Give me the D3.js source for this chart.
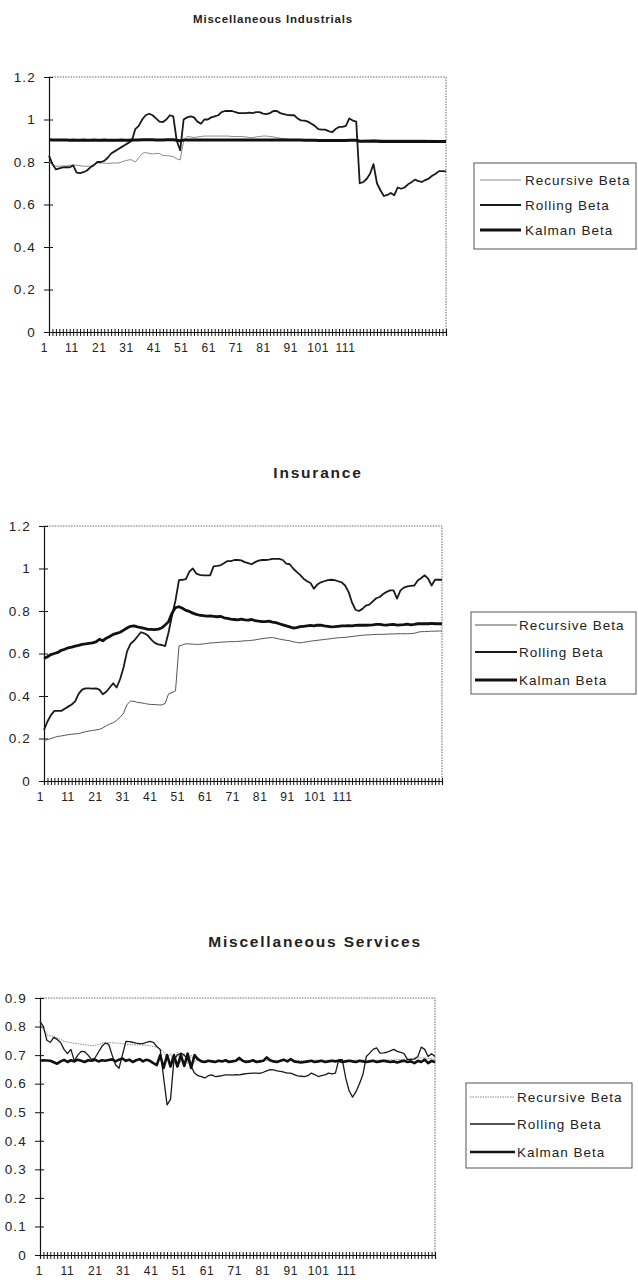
<!DOCTYPE html>
<html lang="en">
<head>
<meta charset="UTF-8"/>
<title>Beta estimates</title>
<script src="https://d3js.org/d3.v7.js"></script>
<style>
  body { margin: 0; background: #fff; }
  text { font-family: "Liberation Sans", Arial, sans-serif; fill: #222; }
</style>
</head>
<body>
<div id="chart"></div>
<script>
// ---- data ----
const seriesNames = ["Recursive Beta", "Rolling Beta", "Kalman Beta"];
const xLabelValues = [1, 11, 21, 31, 41, 51, 61, 71, 81, 91, 101, 111];
const yTicksWide = [0, 0.2, 0.4, 0.6, 0.8, 1, 1.2];
const yTicksNarrow = [0, 0.1, 0.2, 0.3, 0.4, 0.5, 0.6, 0.7, 0.8, 0.9];

// Miscellaneous Industrials
const indRecursive = [
  0.80, 0.79, 0.78, 0.78, 0.782, 0.78, 0.785, 0.785, 0.785, 0.783,
  0.78, 0.78, 0.78, 0.79, 0.795, 0.795, 0.795, 0.793, 0.795, 0.795,
  0.795, 0.80, 0.805, 0.81, 0.81, 0.80, 0.82, 0.84, 0.845, 0.84,
  0.838, 0.84, 0.84, 0.83, 0.83, 0.828, 0.825, 0.815, 0.81, 0.90,
  0.92, 0.918, 0.915, 0.918, 0.92, 0.922, 0.922, 0.922, 0.922, 0.922,
  0.922, 0.922, 0.922, 0.92, 0.92, 0.92, 0.92, 0.918, 0.915, 0.915,
  0.918, 0.92, 0.922, 0.922, 0.92, 0.918, 0.915, 0.912, 0.91, 0.908,
  0.905, 0.905, 0.903, 0.903, 0.902, 0.902, 0.902, 0.902, 0.902, 0.902,
  0.902, 0.902, 0.902, 0.902, 0.902, 0.902, 0.902, 0.902, 0.902, 0.902,
  0.90, 0.902, 0.903, 0.903, 0.904, 0.904, 0.904, 0.903, 0.903, 0.903,
  0.903, 0.903, 0.903, 0.903, 0.903, 0.903, 0.903, 0.903, 0.903, 0.903,
  0.902, 0.902, 0.901, 0.901, 0.90, 0.90];
const indRolling = [
  0.83, 0.79, 0.765, 0.77, 0.775, 0.776, 0.775, 0.784, 0.75, 0.748,
  0.752, 0.76, 0.775, 0.785, 0.80, 0.80, 0.805, 0.82, 0.84, 0.85,
  0.86, 0.87, 0.88, 0.89, 0.90, 0.955, 0.97, 1.00, 1.02, 1.027,
  1.02, 1.005, 0.99, 0.988, 1.0, 1.02, 1.015, 0.90, 0.855, 1.00,
  1.01, 1.015, 1.01, 0.99, 0.98, 1.0, 1.0, 1.01, 1.015, 1.02,
  1.035, 1.04, 1.04, 1.04, 1.035, 1.03, 1.03, 1.03, 1.032, 1.03,
  1.035, 1.035, 1.028, 1.025, 1.03, 1.04, 1.04, 1.03, 1.025, 1.022,
  1.02, 1.02, 1.005, 0.996, 0.995, 0.99, 0.98, 0.97, 0.955, 0.952,
  0.952, 0.945, 0.94, 0.955, 0.965, 0.965, 0.97, 1.005, 0.995, 0.99,
  0.70, 0.705, 0.72, 0.745, 0.79, 0.70, 0.667, 0.64, 0.645, 0.654,
  0.643, 0.68, 0.674, 0.68, 0.695, 0.705, 0.717, 0.71, 0.706, 0.715,
  0.722, 0.735, 0.745, 0.757, 0.757, 0.756];
const indKalman = [
  0.905, 0.904, 0.903, 0.904, 0.903, 0.903, 0.902, 0.903, 0.902, 0.902,
  0.903, 0.902, 0.902, 0.903, 0.902, 0.902, 0.903, 0.902, 0.902, 0.902,
  0.902, 0.903, 0.902, 0.902, 0.903, 0.904, 0.904, 0.905, 0.905, 0.905,
  0.905, 0.904, 0.904, 0.904, 0.905, 0.905, 0.905, 0.902, 0.90, 0.903,
  0.904, 0.904, 0.904, 0.903, 0.903, 0.903, 0.903, 0.903, 0.903, 0.904,
  0.904, 0.904, 0.904, 0.904, 0.904, 0.904, 0.904, 0.904, 0.904, 0.904,
  0.904, 0.904, 0.904, 0.904, 0.904, 0.904, 0.904, 0.904, 0.904, 0.903,
  0.903, 0.903, 0.903, 0.903, 0.902, 0.902, 0.902, 0.902, 0.901, 0.901,
  0.901, 0.901, 0.901, 0.901, 0.901, 0.901, 0.901, 0.902, 0.902, 0.902,
  0.898, 0.898, 0.898, 0.898, 0.899, 0.898, 0.897, 0.897, 0.897, 0.897,
  0.897, 0.897, 0.897, 0.897, 0.897, 0.897, 0.897, 0.897, 0.897, 0.897,
  0.897, 0.897, 0.897, 0.897, 0.897, 0.897];

// Insurance
const insRecursive = [
  0.19, 0.195, 0.2, 0.205, 0.21, 0.212, 0.215, 0.218, 0.22, 0.222,
  0.223, 0.228, 0.232, 0.235, 0.238, 0.24, 0.243, 0.25, 0.26, 0.268,
  0.274, 0.285, 0.30, 0.32, 0.36, 0.376, 0.375, 0.37, 0.368, 0.365,
  0.362, 0.36, 0.36, 0.358, 0.358, 0.365, 0.41, 0.416, 0.424, 0.635,
  0.64, 0.646, 0.645, 0.644, 0.643, 0.643, 0.645, 0.647, 0.65, 0.65,
  0.652, 0.653, 0.654, 0.655, 0.656, 0.656, 0.657, 0.658, 0.66, 0.66,
  0.662, 0.664, 0.667, 0.67, 0.672, 0.674, 0.675, 0.672, 0.668, 0.665,
  0.662, 0.66, 0.655, 0.652, 0.65, 0.653, 0.655, 0.658, 0.66, 0.662,
  0.664, 0.666, 0.668, 0.67, 0.672, 0.674, 0.675, 0.676, 0.678, 0.68,
  0.682, 0.684, 0.686, 0.687, 0.688, 0.689, 0.69, 0.69, 0.69, 0.691,
  0.692, 0.692, 0.693, 0.693, 0.693, 0.693, 0.694, 0.695, 0.70, 0.703,
  0.703, 0.704, 0.705, 0.705, 0.706, 0.706];
const insRolling = [
  0.24, 0.28, 0.31, 0.33, 0.33, 0.33, 0.34, 0.35, 0.36, 0.375,
  0.41, 0.43, 0.436, 0.436, 0.435, 0.436, 0.43, 0.408, 0.42, 0.44,
  0.46, 0.44, 0.48, 0.535, 0.61, 0.645, 0.66, 0.68, 0.70, 0.695,
  0.685, 0.665, 0.65, 0.643, 0.64, 0.635, 0.70, 0.78, 0.85, 0.945,
  0.947, 0.95, 0.985, 1.0, 0.976, 0.97, 0.968, 0.968, 0.968, 1.01,
  1.012, 1.015, 1.025, 1.035, 1.035, 1.04, 1.04, 1.038, 1.03, 1.025,
  1.02, 1.03, 1.037, 1.04, 1.04, 1.042, 1.045, 1.045, 1.045, 1.04,
  1.023, 1.02, 1.0, 0.984, 0.97, 0.952, 0.94, 0.932, 0.905, 0.925,
  0.935, 0.94, 0.945, 0.947, 0.945, 0.94, 0.935, 0.92, 0.89, 0.84,
  0.806, 0.80, 0.81, 0.825, 0.83, 0.845, 0.86, 0.866, 0.88, 0.89,
  0.897, 0.897, 0.858, 0.897, 0.91, 0.916, 0.918, 0.92, 0.944, 0.955,
  0.968, 0.952, 0.92, 0.947, 0.947, 0.947];
const insKalman = [
  0.577, 0.585, 0.595, 0.6, 0.605, 0.615, 0.62, 0.627, 0.63, 0.635,
  0.638, 0.643, 0.645, 0.648, 0.65, 0.655, 0.667, 0.66, 0.672, 0.68,
  0.69, 0.695, 0.70, 0.71, 0.72, 0.728, 0.73, 0.725, 0.722, 0.718,
  0.714, 0.714, 0.712, 0.715, 0.72, 0.734, 0.75, 0.79, 0.816, 0.82,
  0.813, 0.803, 0.798, 0.79, 0.784, 0.78, 0.778, 0.776, 0.777, 0.775,
  0.773, 0.775, 0.768, 0.765, 0.762, 0.76, 0.758, 0.762, 0.758, 0.757,
  0.76, 0.755, 0.752, 0.75, 0.75, 0.752, 0.748, 0.745, 0.74, 0.735,
  0.73, 0.725, 0.72, 0.722, 0.726, 0.728, 0.73, 0.732, 0.73, 0.734,
  0.733, 0.73, 0.728, 0.725, 0.726, 0.728, 0.73, 0.73, 0.731, 0.73,
  0.732, 0.733, 0.734, 0.733, 0.734, 0.735, 0.737, 0.737, 0.735, 0.734,
  0.736, 0.737, 0.734, 0.735, 0.736, 0.738, 0.735, 0.737, 0.74, 0.74,
  0.741, 0.74, 0.742, 0.74, 0.741, 0.74];

// Miscellaneous Services
const svcRecursive = [
  0.818, 0.79, 0.771, 0.768, 0.765, 0.76, 0.755, 0.748, 0.746, 0.744,
  0.742, 0.74, 0.738, 0.736, 0.735, 0.733, 0.734, 0.737, 0.742, 0.744,
  0.744, 0.743, 0.742, 0.742, 0.74, 0.738, 0.737, 0.736, 0.736, 0.736,
  0.735, 0.735, 0.733, 0.73, 0.728, 0.72, 0.71, 0.69, 0.705, 0.67,
  0.71, 0.675, 0.705, 0.67, 0.70, 0.675, 0.69, 0.682, 0.68, 0.68,
  0.681, 0.68, 0.681, 0.68, 0.681, 0.68, 0.681, 0.68, 0.681, 0.68,
  0.681, 0.68, 0.681, 0.68, 0.681, 0.68, 0.681, 0.68, 0.681, 0.68,
  0.681, 0.681, 0.681, 0.681, 0.681, 0.681, 0.681, 0.681, 0.681, 0.681,
  0.682, 0.682, 0.682, 0.682, 0.682, 0.682, 0.682, 0.682, 0.682, 0.682,
  0.682, 0.682, 0.682, 0.682, 0.682, 0.682, 0.682, 0.682, 0.682, 0.682,
  0.683, 0.683, 0.683, 0.683, 0.684, 0.684, 0.685, 0.686, 0.688, 0.69,
  0.69, 0.69, 0.69, 0.688, 0.688, 0.686];
const svcRolling = [
  0.818, 0.80, 0.752, 0.745, 0.762, 0.755, 0.744, 0.72, 0.705, 0.72,
  0.68, 0.70, 0.713, 0.712, 0.70, 0.684, 0.69, 0.71, 0.73, 0.742,
  0.738, 0.70, 0.666, 0.654, 0.70, 0.748, 0.747, 0.745, 0.742, 0.74,
  0.74, 0.745, 0.748, 0.745, 0.73, 0.72, 0.62, 0.526, 0.545, 0.684,
  0.70, 0.707, 0.70, 0.684, 0.66, 0.637, 0.628, 0.625, 0.62, 0.628,
  0.631, 0.625, 0.626, 0.628, 0.631, 0.631, 0.63, 0.632, 0.631, 0.633,
  0.635, 0.636, 0.637, 0.637, 0.636, 0.64, 0.645, 0.649, 0.648, 0.645,
  0.643, 0.64, 0.637, 0.637, 0.632, 0.627, 0.626, 0.625, 0.628, 0.637,
  0.632, 0.625, 0.628, 0.631, 0.637, 0.634, 0.637, 0.684, 0.684, 0.62,
  0.575, 0.553, 0.572, 0.60, 0.631, 0.695, 0.707, 0.72, 0.725, 0.707,
  0.708, 0.71, 0.715, 0.72, 0.713, 0.71, 0.705, 0.684, 0.685, 0.686,
  0.695, 0.728, 0.72, 0.695, 0.705, 0.695];
const svcKalman = [
  0.68, 0.682, 0.681, 0.68, 0.675, 0.67, 0.678, 0.683, 0.676, 0.682,
  0.678, 0.684, 0.68, 0.676, 0.682, 0.68, 0.684, 0.678, 0.682, 0.68,
  0.683, 0.685, 0.678, 0.684, 0.688, 0.68, 0.684, 0.676, 0.682, 0.686,
  0.678, 0.684, 0.68, 0.672, 0.665, 0.70, 0.655, 0.70, 0.66, 0.70,
  0.66, 0.70, 0.662, 0.705, 0.655, 0.70, 0.685, 0.678, 0.676, 0.68,
  0.678, 0.676, 0.68, 0.678, 0.682, 0.676, 0.678, 0.68, 0.69, 0.68,
  0.676, 0.678, 0.682, 0.676, 0.678, 0.68, 0.692, 0.682, 0.678, 0.676,
  0.68, 0.684, 0.678, 0.686, 0.678, 0.676, 0.674, 0.676, 0.678, 0.68,
  0.676, 0.678, 0.68, 0.676, 0.678, 0.68, 0.678, 0.68, 0.676, 0.678,
  0.68, 0.678, 0.676, 0.68, 0.678, 0.676, 0.678, 0.68, 0.676, 0.678,
  0.68, 0.678, 0.676, 0.678, 0.674, 0.678, 0.68, 0.676, 0.678, 0.672,
  0.68, 0.676, 0.684, 0.672, 0.68, 0.675];

const categories = d3.range(1, indRolling.length + 1);

// ---- layout of the three panels ----
const panels = [
  { title: "Miscellaneous Industrials", titleX: 273, titleY: 23, titleSize: 11.5, titleSpacing: 0.8,
    left: 49, right: 446, top: 77, bottom: 332, yMax: 1.2, yTicks: yTicksWide,
    labelRange: [44, 345],
    data: [indRecursive, indRolling, indKalman],
    styles: [
      { stroke: "#8a8a8a", width: 1, dash: null },
      { stroke: "#1a1a1a", width: 1.8, dash: null },
      { stroke: "#111", width: 3, dash: null }],
    legend: { x: 474, y: 163, w: 162, h: 86, rows: [180, 205, 230], s0: 480, s1: 521, tx: 525 } },
  { title: "Insurance", titleX: 318, titleY: 478, titleSize: 15.5, titleSpacing: 1.8,
    left: 44, right: 442, top: 526, bottom: 781, yMax: 1.2, yTicks: yTicksWide,
    labelRange: [40, 342],
    data: [insRecursive, insRolling, insKalman],
    styles: [
      { stroke: "#555", width: 1, dash: null },
      { stroke: "#1a1a1a", width: 1.8, dash: null },
      { stroke: "#111", width: 2.8, dash: null }],
    legend: { x: 471, y: 612, w: 165, h: 82, rows: [625, 652, 680], s0: 475, s1: 517, tx: 519 } },
  { title: "Miscellaneous Services", titleX: 315, titleY: 947, titleSize: 15.5, titleSpacing: 1.8,
    left: 40, right: 435, top: 998, bottom: 1255, yMax: 0.9, yTicks: yTicksNarrow,
    labelRange: [39, 346],
    data: [svcRecursive, svcRolling, svcKalman],
    styles: [
      { stroke: "#888", width: 1, dash: "1.5,1" },
      { stroke: "#1a1a1a", width: 1.3, dash: null },
      { stroke: "#111", width: 2.6, dash: null }],
    legend: { x: 466, y: 1083, w: 166, h: 85, rows: [1097, 1124, 1152], s0: 470, s1: 515, tx: 517 } }
];

const svg = d3.select("#chart").append("svg")
  .attr("width", 638)
  .attr("height", 1284);

panels.forEach(p => {
  const g = svg.append("g");

  const x = d3.scalePoint().domain(categories).range([p.left, p.right]);
  const y = d3.scaleLinear().domain([0, p.yMax]).range([p.bottom, p.top]);
  // the printed category labels sit a little left of where the points are
  const xLab = d3.scaleLinear().domain([1, 111]).range(p.labelRange);

  g.append("text")
    .attr("x", p.titleX)
    .attr("y", p.titleY)
    .attr("text-anchor", "middle")
    .style("font-size", p.titleSize + "px")
    .style("font-weight", "bold")
    .style("letter-spacing", p.titleSpacing + "px")
    .text(p.title);

  // plot area frame: dotted top and right
  g.append("path")
    .attr("d", `M${p.left},${p.top}H${p.right}V${p.bottom}`)
    .attr("fill", "none")
    .attr("stroke", "#666")
    .attr("stroke-dasharray", "1.5,1.2");

  // y axis with crossing ticks
  const yAxis = g.append("g")
    .attr("transform", `translate(${p.left},0)`)
    .call(d3.axisLeft(y).tickValues(p.yTicks).tickSize(5).tickPadding(8)
      .tickFormat(d => d3.format("~g")(+d.toFixed(1))));
  yAxis.select(".domain").attr("stroke", "#111").attr("stroke-width", 1.2);
  yAxis.selectAll(".tick line").attr("x2", -5).attr("x1", 4).attr("stroke", "#111");
  yAxis.selectAll(".tick text")
    .style("font-size", "13.5px")
    .style("letter-spacing", "1.2px")
    .style("font-family", "'Liberation Sans', Arial, sans-serif")
    .attr("fill", "#222");

  // x axis: a tick for every category
  const xAxis = g.append("g")
    .attr("transform", `translate(0,${p.bottom})`)
    .call(d3.axisBottom(x).tickValues(categories).tickSize(4).tickFormat(""));
  xAxis.select(".domain").attr("stroke", "#111").attr("stroke-width", 1.2);
  xAxis.selectAll(".tick line").attr("y1", -3).attr("stroke", "#111").attr("stroke-width", 1);

  const xLabels = g.append("g")
    .attr("transform", `translate(0,${p.bottom + 8})`)
    .call(d3.axisBottom(xLab).tickValues(xLabelValues).tickSize(0).tickFormat(d3.format("d")));
  xLabels.select(".domain").remove();
  xLabels.selectAll(".tick text")
    .style("font-size", "12px")
    .style("letter-spacing", "0.6px")
    .style("font-family", "'Liberation Sans', Arial, sans-serif")
    .attr("fill", "#222");

  // series
  const line = d3.line()
    .x((d, i) => x(categories[i]))
    .y(d => y(d));
  p.data.forEach((vals, k) => {
    const s = p.styles[k];
    g.append("path")
      .datum(vals)
      .attr("d", line)
      .attr("fill", "none")
      .attr("stroke", s.stroke)
      .attr("stroke-width", s.width)
      .attr("stroke-linejoin", "round")
      .attr("stroke-dasharray", s.dash);
  });

  // legend
  const L = p.legend;
  const lg = g.append("g");
  lg.append("rect")
    .attr("x", L.x).attr("y", L.y)
    .attr("width", L.w).attr("height", L.h)
    .attr("fill", "#fff")
    .attr("stroke", "#555")
    .attr("stroke-width", 1);
  seriesNames.forEach((name, k) => {
    const s = p.styles[k];
    lg.append("line")
      .attr("x1", L.s0).attr("x2", L.s1)
      .attr("y1", L.rows[k]).attr("y2", L.rows[k])
      .attr("stroke", s.stroke)
      .attr("stroke-width", s.width)
      .attr("stroke-dasharray", s.dash);
    lg.append("text")
      .attr("x", L.tx)
      .attr("y", L.rows[k])
      .attr("dy", "0.36em")
      .style("font-size", "13.5px")
      .style("letter-spacing", "1px")
      .text(name);
  });
});
</script>
</body>
</html>
